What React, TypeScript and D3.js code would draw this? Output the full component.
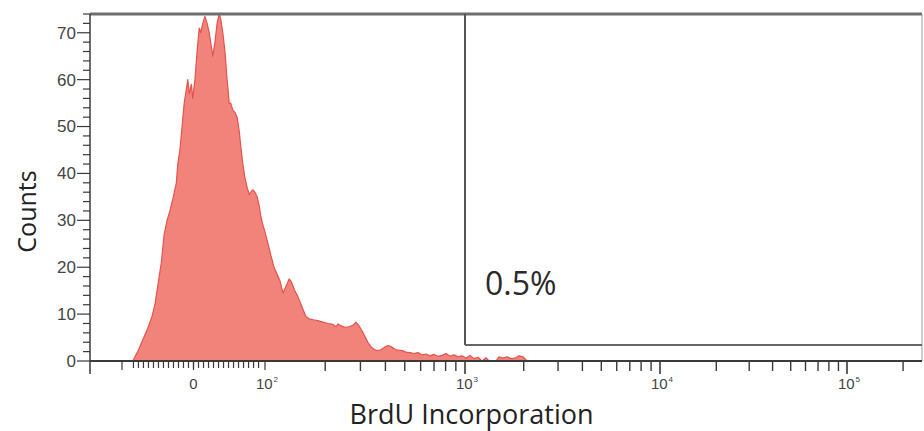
import React from "react";
import * as d3 from "d3";

const W = 924;
const H = 431;

// Histogram bins: BrdU fluorescence (bin position) and event counts
const binValues = [
  -85, -78, -71, -64, -58, -54, -50, -45, -41, -37, -33, -29, -24, -22, -19, -16, -13, -10, -8, -6,
  -3, -1, 2, 5, 8, 10, 13, 16, 19, 22, 24, 27, 30, 33, 36, 38, 41, 44, 47, 50,
  52, 55, 58, 61, 64, 66, 69, 72, 75, 78, 80, 83, 86, 89, 92, 94, 97, 100, 103.5, 107,
  111, 115, 119, 123, 126, 129, 132, 135, 138, 141, 145, 150, 155, 160, 166, 174, 184, 195, 207, 219,
  226, 232, 240, 251, 263, 275, 285, 295, 305, 316, 327, 339, 351, 363, 380, 398, 412, 427, 442, 462,
  484, 507, 531, 556, 582, 610, 638, 668, 700, 733, 767, 804, 841, 881, 923, 966, 1012, 1061, 1112, 1166,
  1222, 1281, 1328, 1442, 1494, 1566, 1642, 1721, 1805, 1892, 1983, 2080,
];
const binCounts = [
  0, 2, 4.5, 7, 9.5, 12, 16, 21, 27, 30, 32, 34.5, 38, 42, 45, 50, 55, 58, 60, 57,
  59, 56, 60, 66, 71, 70, 72, 73.5, 72, 70, 68, 65, 68, 72, 74, 73, 70, 66, 60, 55,
  55, 53.5, 53, 52, 49, 46, 42, 39, 37, 35.5, 36, 36.5, 36, 35, 33, 31, 29, 27.5, 25, 22.5,
  20, 18.5, 17, 14.5, 15.5, 16.5, 17.5, 17, 16, 15, 14, 12.5, 11, 9.5, 9, 8.8, 8.6, 8.3, 8, 7.8,
  7.3, 7.9, 7.5, 7.2, 7.3, 7.6, 8.3, 7.5, 6.5, 5.2, 4, 3, 2.5, 2.2, 2.4, 3, 3.3, 3.1, 2.6, 2.3,
  2.2, 1.9, 1.8, 1.6, 1.8, 1.3, 1.5, 1.1, 1.4, 1.0, 1.2, 1.6, 1.0, 1.3, 0.9, 1.1, 0.6, 1.2, 0.5, 0.8,
  0, 0.7, 0, 0, 0.9, 0.6, 0.9, 0.5, 0.6, 1.1, 0.9, 0,
];

// Axis ticks and labels
const yTickValues = [0, 10, 20, 30, 40, 50, 60, 70];
const xLabelValues = [0, 100, 1000, 10000, 100000];
const xLabelBases = ["0", "10", "10", "10", "10"];
const xLabelExponents = ["", "2", "3", "4", "5"];
const xMajorTicks = [1000, 10000, 100000];
const xDecadeStarts = [100, 1000, 10000, 100000];

// Gate
const gateThreshold = 1000;
const gateLevel = 3.4;
const gateLabel = "0.5%";

const xTitle = "BrdU Incorporation";
const yTitle = "Counts";

const FILL = "#f2837b";
const EDGE = "#e2544d";
const AXIS = "#3a3a3a";
const SANS = "'Open Sans', 'Noto Sans', sans-serif";
const TICKFONT = "'Liberation Sans', Arial, sans-serif";

export default function App() {
  const left = 90;
  const right = 922;
  const top = 14;
  const bottom = 361;

  // biexponential-style axis: linear around zero, logarithmic above 100
  const xLin = d3.scaleLinear().domain([-100, 100]).range([122, 265]);
  const xLog = d3
    .scaleLog()
    .domain([100, 1000, 10000, 100000, 262144])
    .range([265, 465, 660, 847, 925]);
  const x = (v: number) => (v <= 100 ? xLin(v) : xLog(v));

  const y = d3.scaleLinear().domain([0, 74]).range([bottom, top]);

  const pts = binValues.map((v, i) => [v, binCounts[i]] as [number, number]);
  const area = d3
    .area<[number, number]>()
    .x((d) => x(d[0]))
    .y0(y(0))
    .y1((d) => y(d[1]));
  const line = d3
    .line<[number, number]>()
    .x((d) => x(d[0]))
    .y((d) => y(d[1]));

  const yMinor = d3.range(0, 75, 2).filter((v) => v % 10 !== 0);
  const decadeMinor: number[] = [];
  xDecadeStarts.forEach((d) => {
    for (let k = 2; k <= 9; k++) {
      const v = d * k;
      if (v <= 262144) decadeMinor.push(v);
    }
  });
  const denseTicks = d3.range(-84, 95, 7);
  const gx = x(gateThreshold);
  const gy = y(gateLevel);

  return (
    <svg
      width={W}
      height={H}
      style={{ position: "absolute", left: 0, top: 0, background: "#fff", display: "block" }}
    >
      <rect x={0} y={0} width={W} height={H} fill="#fff" />

      {/* histogram */}
      <path d={area(pts) || ""} fill={FILL} />
      <path d={line(pts) || ""} fill="none" stroke={EDGE} strokeWidth={1.2} strokeLinejoin="round" />

      {/* frame */}
      <line x1={left} x2={right} y1={top} y2={top} stroke="#6e6e6e" strokeWidth={3} />
      <line x1={right} x2={right} y1={top} y2={bottom} stroke="#9a9a9a" strokeWidth={1} />

      {/* gate */}
      <line x1={gx} x2={gx} y1={top} y2={gy} stroke="#555" strokeWidth={2} />
      <line x1={gx} x2={right} y1={gy} y2={gy} stroke="#666" strokeWidth={2} />
      <text x={485} y={295} fontFamily={SANS} fontSize={32} fill="#2a2a2a">
        {gateLabel}
      </text>

      {/* y axis */}
      <line x1={left} x2={left} y1={top} y2={374} stroke={AXIS} strokeWidth={1.5} />
      {yMinor.map((v) => (
        <line key={"ym" + v} x1={left - 7} x2={left} y1={y(v)} y2={y(v)} stroke={AXIS} strokeWidth={1.2} />
      ))}
      {yTickValues.map((v) => (
        <g key={"y" + v}>
          <line x1={left - 13} x2={left} y1={y(v)} y2={y(v)} stroke={AXIS} strokeWidth={1.2} />
          <text
            x={left - 14}
            y={y(v)}
            dy="0.35em"
            textAnchor="end"
            fontFamily={TICKFONT}
            fontSize={17}
            fill="#444"
          >
            {v}
          </text>
        </g>
      ))}
      <text
        transform={`translate(36,${(top + bottom) / 2 + 24}) rotate(-90)`}
        textAnchor="middle"
        fontFamily={SANS}
        fontSize={25}
        fill="#222"
      >
        {yTitle}
      </text>

      {/* x axis */}
      <line x1={left} x2={right} y1={bottom} y2={bottom} stroke={AXIS} strokeWidth={2} />
      {denseTicks.map((v) => (
        <line key={"xd" + v} x1={x(v)} x2={x(v)} y1={bottom} y2={bottom + 7} stroke={AXIS} strokeWidth={1.2} />
      ))}
      {[-100, 0, 100].map((v) => (
        <line key={"xl" + v} x1={x(v)} x2={x(v)} y1={bottom} y2={bottom + 9} stroke={AXIS} strokeWidth={1.2} />
      ))}
      {decadeMinor.map((v) => (
        <line key={"xm" + v} x1={x(v)} x2={x(v)} y1={bottom} y2={bottom + 10} stroke={AXIS} strokeWidth={1.4} />
      ))}
      {xMajorTicks.map((v) => (
        <line key={"xM" + v} x1={x(v)} x2={x(v)} y1={bottom} y2={bottom + 13} stroke={AXIS} strokeWidth={1.6} />
      ))}
      {xLabelValues.map((v, i) => (
        <text
          key={"xt" + v}
          x={x(v) + (xLabelExponents[i] ? 2 : 0)}
          y={389}
          textAnchor="middle"
          fontFamily={TICKFONT}
          fontSize={15}
          fill="#444"
        >
          {xLabelBases[i]}
          {xLabelExponents[i] && (
            <tspan dx={1} dy={-7} fontSize={8}>
              {xLabelExponents[i]}
            </tspan>
          )}
        </text>
      ))}
      <text
        x={(345 + 598) / 2}
        y={424}
        textAnchor="middle"
        fontFamily={SANS}
        fontSize={27}
        fill="#222"
      >
        {xTitle}
      </text>
    </svg>
  );
}
